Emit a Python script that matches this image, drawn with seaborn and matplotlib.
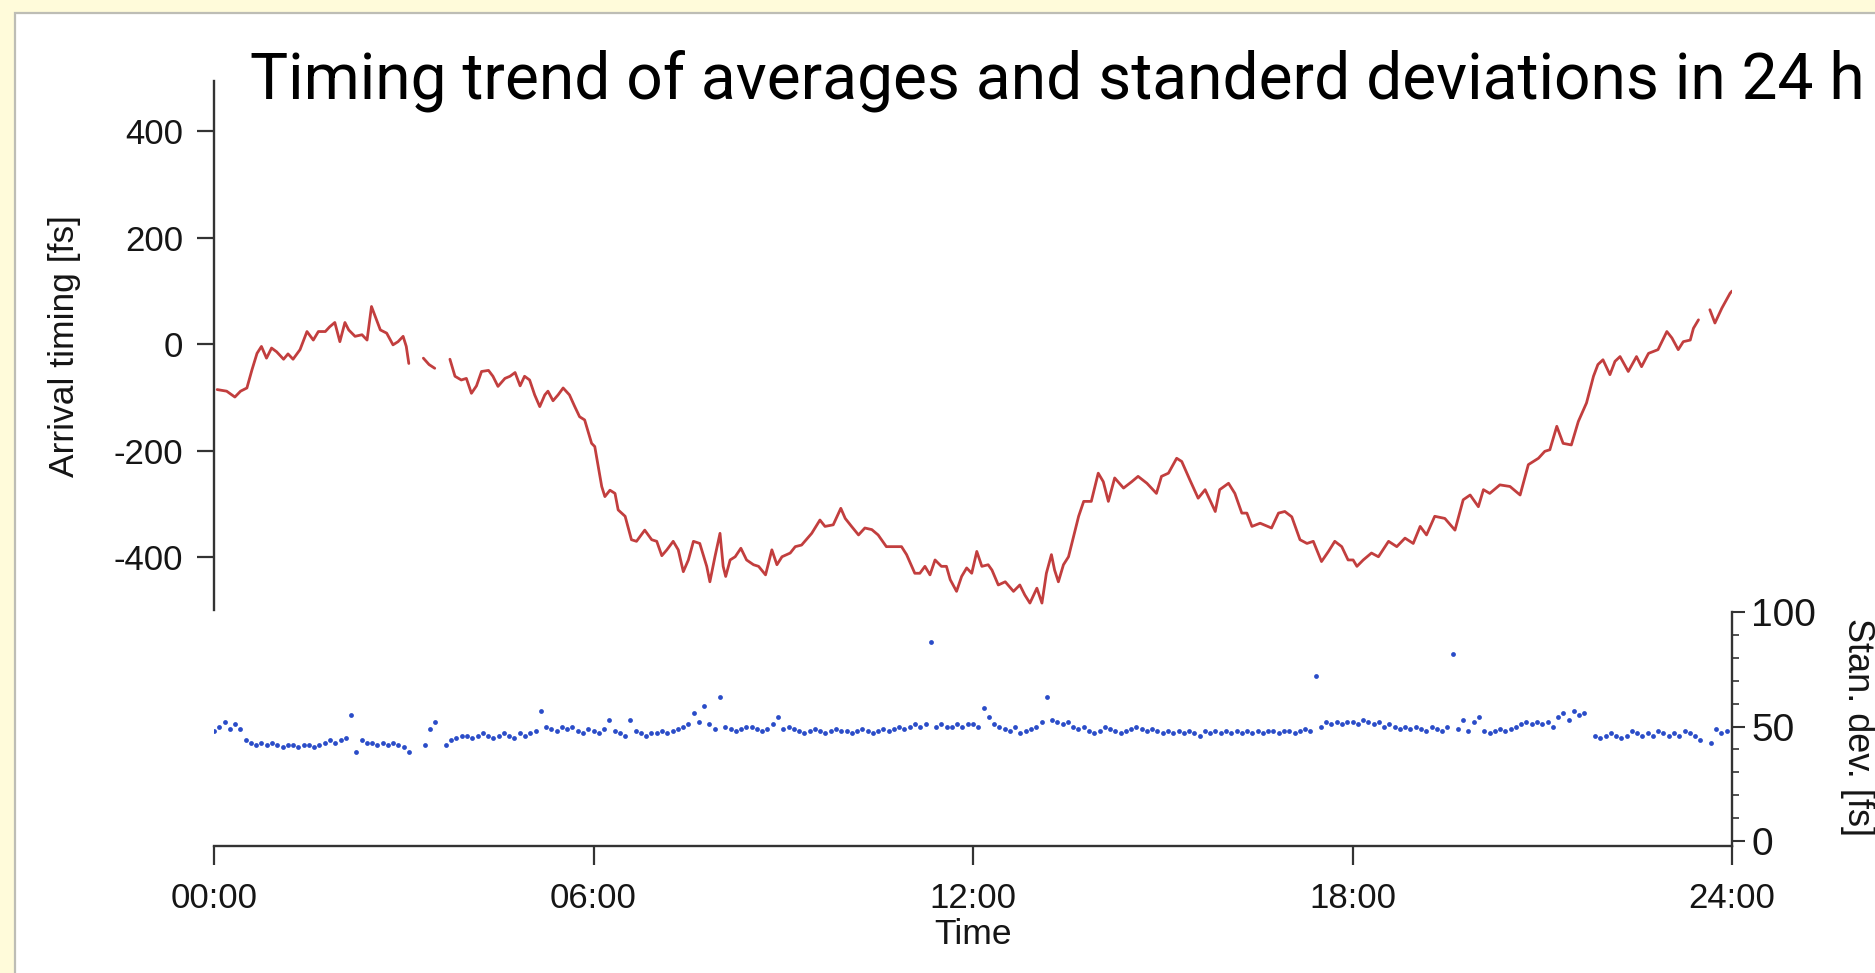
import numpy as np
import pandas as pd
import matplotlib
matplotlib.use("Agg")
import matplotlib.pyplot as plt
import seaborn as sns
from matplotlib.patches import Rectangle
from matplotlib.ticker import FixedLocator, MultipleLocator

sns.set_theme(style="white")
plt.rcParams["font.family"] = ["Liberation Sans", "DejaVu Sans"]
plt.rcParams["axes.unicode_minus"] = False

nan = np.nan

# ---- mean arrival timing [fs] vs time of day [h]; nan marks a break in the record ----
mean_hours = [
    0.05, 0.10, 0.20, 0.33, 0.42, 0.52, 0.60, 0.68, 0.75, 0.83, 0.91, 0.99,
    1.10, 1.17, 1.25, 1.36, 1.47, 1.57, 1.65, 1.76, 1.83, 1.91, 1.99, 2.07,
    2.13, 2.23, 2.34, 2.42, 2.49, 2.56, 2.63, 2.73, 2.83, 2.91, 2.99, 3.04,
    3.08, 3.20,
    3.31, 3.40, 3.49, 3.60,
    3.73, 3.81, 3.91, 3.99, 4.07, 4.15, 4.23, 4.34, 4.41, 4.49, 4.60, 4.68,
    4.76, 4.84, 4.91, 4.99, 5.07, 5.15, 5.23, 5.28, 5.36, 5.44, 5.52, 5.62,
    5.70, 5.78, 5.86, 5.97, 6.02, 6.13, 6.18, 6.26, 6.34, 6.39, 6.50, 6.60,
    6.68, 6.81, 6.92, 7.00, 7.08, 7.16, 7.26, 7.34, 7.42, 7.50, 7.58, 7.68,
    7.79, 7.84, 7.92, 8.00, 8.05, 8.09, 8.16, 8.24, 8.33, 8.42, 8.53, 8.61,
    8.72, 8.82, 8.90, 8.98, 9.11, 9.19, 9.29, 9.45, 9.58, 9.66, 9.79, 9.91,
    9.98, 10.08, 10.19, 10.29, 10.40, 10.50, 10.63, 10.77, 10.87, 10.95, 11.08, 11.16,
    11.24, 11.32, 11.40, 11.50, 11.58, 11.64, 11.74, 11.82, 11.90, 11.98, 12.06, 12.14,
    12.24, 12.30, 12.40, 12.51, 12.64, 12.74, 12.82, 12.90, 13.01, 13.09, 13.16, 13.24,
    13.29, 13.35, 13.43, 13.51, 13.59, 13.67, 13.75, 13.87, 13.98, 14.06, 14.14, 14.24,
    14.38, 14.51, 14.61, 14.75, 14.90, 14.98, 15.09, 15.22, 15.30, 15.43, 15.56, 15.67,
    15.83, 15.90, 16.04, 16.14, 16.25, 16.33, 16.41, 16.54, 16.72, 16.83, 16.93, 17.04,
    17.17, 17.28, 17.38, 17.51, 17.62, 17.72, 17.83, 17.93, 18.01, 18.07, 18.17, 18.30,
    18.41, 18.57, 18.70, 18.83, 18.96, 19.07, 19.17, 19.30, 19.46, 19.62, 19.75, 19.86,
    19.99, 20.07, 20.17, 20.33, 20.49, 20.65, 20.78, 20.94, 21.04, 21.12, 21.23, 21.33,
    21.46, 21.57, 21.70, 21.81, 21.88, 21.96, 22.07, 22.15, 22.23, 22.36, 22.49, 22.57,
    22.68, 22.83, 22.97, 23.05, 23.15, 23.23, 23.34, 23.39, 23.47, 23.56,
    23.65, 23.73, 23.84, 23.97, 24.00,
]
mean_fs = [
    -85, -86, -88, -99, -88, -82, -48, -17, -4, -26, -7, -14,
    -28, -18, -28, -10, 24, 8, 24, 24, 33, 41, 5, 41,
    27, 15, 18, 8, 71, 49, 27, 21, -1, 5, 15, -4,
    -36, nan,
    -26, -38, -45, nan,
    -28, -60, -67, -64, -92, -78, -51, -49, -60, -79, -64, -60,
    -53, -78, -60, -67, -95, -117, -95, -88, -106, -95, -82, -95,
    -116, -136, -142, -186, -192, -267, -286, -274, -280, -311, -323, -367,
    -370, -349, -367, -370, -397, -386, -370, -386, -427, -405, -370, -374,
    -417, -446, -399, -355, -417, -436, -405, -399, -383, -405, -414, -417,
    -433, -386, -414, -399, -392, -380, -377, -355, -330, -342, -339, -308,
    -327, -342, -358, -345, -348, -358, -380, -380, -380, -395, -430, -430,
    -417, -433, -405, -417, -417, -442, -464, -436, -420, -430, -389, -417,
    -414, -424, -452, -446, -464, -452, -471, -486, -458, -486, -430, -395,
    -424, -446, -414, -399, -361, -323, -295, -295, -242, -258, -295, -251,
    -270, -258, -248, -261, -280, -248, -242, -214, -220, -255, -289, -273,
    -314, -273, -261, -280, -317, -317, -342, -336, -345, -317, -314, -324,
    -367, -374, -370, -408, -389, -370, -380, -405, -405, -417, -405, -392,
    -399, -370, -380, -364, -374, -342, -358, -323, -327, -349, -292, -283,
    -305, -273, -280, -264, -267, -283, -226, -214, -201, -198, -154, -186,
    -189, -145, -110, -60, -38, -29, -57, -32, -23, -51, -23, -42,
    -17, -10, 24, 12, -10, 5, 8, 30, 46, nan,
    65, 40, 68, 96, 100,
]

# ---- standard deviation [fs], one value every 5 minutes (12 per hour) ----
sd_fs = [
    48, 50, 52, 49, 51, 49, 44, 43, 42, 43, 42, 43,      # 00h
    42, 41, 42, 42, 41, 42, 42, 41, 42, 43, 44, 43,      # 01h
    44, 45, 55, 39, 44, 43, 43, 42, 43, 42, 43, 42,      # 02h
    41, 39, nan, nan, 42, 49, 52, nan, 42, 44, 45, 46,   # 03h
    46, 45, 46, 47, 46, 45, 46, 47, 46, 45, 47, 46,      # 04h
    47, 48, 57, 50, 49, 48, 50, 49, 50, 48, 47, 49,      # 05h
    48, 47, 49, 53, 48, 47, 46, 53, 48, 47, 46, 47,      # 06h
    47, 48, 47, 48, 49, 50, 51, 56, 52, 59, 51, 49,      # 07h
    63, 50, 49, 48, 49, 50, 50, 49, 48, 49, 51, 54,      # 08h
    49, 50, 49, 48, 47, 48, 49, 48, 47, 48, 49, 48,      # 09h
    48, 47, 48, 49, 48, 47, 48, 49, 48, 49, 50, 49,      # 10h
    50, 51, 50, 51, 87, 50, 51, 50, 50, 51, 50, 51,      # 11h
    51, 50, 58, 54, 51, 50, 49, 48, 50, 47, 48, 49,      # 12h
    50, 52, 63, 53, 52, 51, 52, 50, 49, 50, 48, 47,      # 13h
    48, 50, 49, 48, 47, 48, 49, 50, 49, 48, 49, 48,      # 14h
    47, 48, 47, 48, 47, 48, 47, 46, 48, 47, 48, 47,      # 15h
    48, 47, 48, 47, 48, 47, 48, 47, 48, 48, 47, 48,      # 16h
    48, 47, 48, 49, 48, 72, 50, 52, 51, 52, 51, 52,      # 17h
    52, 51, 53, 52, 51, 52, 50, 51, 50, 49, 50, 49,      # 18h
    50, 49, 48, 50, 49, 48, 50, 82, 49, 53, 48, 52,      # 19h
    54, 48, 47, 48, 49, 48, 49, 50, 51, 52, 51, 52,      # 20h
    51, 52, 50, 54, 56, 53, 57, 55, 56, nan, 46, 45,     # 21h
    46, 47, 46, 45, 46, 48, 47, 46, 47, 46, 48, 47,      # 22h
    46, 47, 46, 48, 47, 46, 44, nan, 43, 49, 47, 48,     # 23h
]
sd_minutes = list(range(0, 24 * 60, 5))

time_ticks = [0, 6, 12, 18, 24]
time_labels = ["00:00", "06:00", "12:00", "18:00", "24:00"]
mean_ticks = [-400, -200, 0, 200, 400]
sd_ticks = [0, 50, 100]

title_text = "Timing trend of averages and standerd deviations in 24 h"

# ---- tidy frames ----
mean_df = pd.DataFrame({"hour": mean_hours, "fs": mean_fs})
mean_df["segment"] = mean_df["fs"].isna().cumsum()
mean_df = mean_df.dropna()
sd_df = pd.DataFrame({"hour": np.array(sd_minutes) / 60.0, "fs": sd_fs}).dropna()

W, H = 1875, 973
fig = plt.figure(figsize=(W / 100, H / 100), dpi=100)
fig.patch.set_facecolor("#FFFBDA")
fig.add_artist(Rectangle((15 / W, -0.05), 1.2, 1 - 13 / H + 0.05,
                         transform=fig.transFigure, facecolor="white",
                         edgecolor="#BDBDB5", linewidth=1.6, zorder=0))

ax_l, ax_w = 214 / W, (1732 - 214) / W
ax_sd = fig.add_axes([ax_l, (H - 845.6) / H, ax_w, (845.6 - 612.4) / H])
ax_mean = fig.add_axes([ax_l, (H - 610) / H, ax_w, (610 - 81.3) / H])
for ax in (ax_sd, ax_mean):
    ax.set_facecolor("none")
    ax.set_xlim(0, 24)

axis_col = "#333333"
text_col = "#151515"

# ---- mean timing (top) ----
sns.lineplot(data=mean_df, x="hour", y="fs", units="segment", estimator=None,
             color="#C23E3E", linewidth=2.0, ax=ax_mean, legend=False)
ax_mean.set_ylim(-499, 494)
for side in ("top", "right", "bottom"):
    ax_mean.spines[side].set_visible(False)
ax_mean.spines["left"].set_color(axis_col)
ax_mean.spines["left"].set_linewidth(1.7)
ax_mean.set_xticks([])
ax_mean.set_xlabel("")
ax_mean.yaxis.set_major_locator(FixedLocator(mean_ticks))
ax_mean.set_yticklabels([str(v) for v in mean_ticks])
ax_mean.tick_params(axis="y", direction="out", length=12, width=1.6,
                    color=axis_col, labelsize=25, labelcolor=text_col, pad=10,
                    left=True)
ax_mean.set_ylabel("Arrival timing [fs]", fontsize=25.5, color=text_col,
                   va="center", ha="center")
ax_mean.yaxis.set_label_coords(-0.0988, 0.5)

# ---- standard deviation (bottom) ----
sns.scatterplot(data=sd_df, x="hour", y="fs", color="#2A4CC8", s=12,
                linewidth=0, ax=ax_sd, legend=False)
ax_sd.set_ylim(-2.1, 100)
for side in ("top", "left"):
    ax_sd.spines[side].set_visible(False)
for side in ("bottom", "right"):
    ax_sd.spines[side].set_color(axis_col)
    ax_sd.spines[side].set_linewidth(1.7)
ax_sd.yaxis.tick_right()
ax_sd.yaxis.set_label_position("right")
ax_sd.yaxis.set_major_locator(FixedLocator(sd_ticks))
ax_sd.yaxis.set_minor_locator(MultipleLocator(10))
ax_sd.set_yticklabels([str(v) for v in sd_ticks])
ax_sd.tick_params(axis="y", which="major", direction="out", length=9, width=1.5,
                  color=axis_col, labelsize=28, labelcolor=text_col, pad=5,
                  right=True, left=False)
ax_sd.tick_params(axis="y", which="minor", direction="out", length=5, width=1.2,
                  color=axis_col, right=True, left=False)
ax_sd.xaxis.set_major_locator(FixedLocator(time_ticks))
ax_sd.set_xticklabels(time_labels)
ax_sd.tick_params(axis="x", direction="out", length=14, width=1.6,
                  color=axis_col, labelsize=25, labelcolor=text_col, pad=12,
                  bottom=True)
ax_sd.set_xlabel("Time", fontsize=25.5, color=text_col, va="center")
ax_sd.xaxis.set_label_coords(0.5, -0.383)
ax_sd.set_ylabel("Stan. dev. [fs]", fontsize=26, color=text_col,
                 rotation=-90, va="center", ha="center")
ax_sd.yaxis.set_label_coords(1.0824, 0.51)

# ---- title, sized to span its line ----
title = fig.text(250 / W, 1 - 98 / H, title_text, fontsize=44,
                 family=["Roboto", "DejaVu Sans"], color="black",
                 ha="left", va="baseline")
fig.canvas.draw()
span = title.get_window_extent().width
title.set_fontsize(44 * 1616 / span)

fig.savefig("out.png", dpi=100, facecolor=fig.get_facecolor())
